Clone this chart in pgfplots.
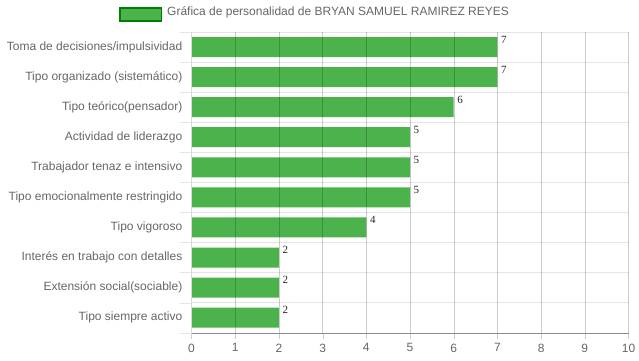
\documentclass[border=0pt]{standalone}
\usepackage{pgfplots}
\pgfplotsset{compat=1.18}
\usepackage{fontspec}
\setmainfont{Liberation Sans}
\newfontfamily\seriffont{Liberation Serif}
\definecolor{barfill}{RGB}{76,179,76}
\definecolor{legborder}{RGB}{0,128,0}
\definecolor{txt}{RGB}{102,102,102}
\begin{document}
\begin{tikzpicture}[x=1pt,y=1pt]
\useasboundingbox (0,0) rectangle (639,360);
\begin{axis}[
  at={(191.5pt,27.3pt)}, anchor=south west, scale only axis,
  width=437pt, height=300.7pt,
  xbar, bar width=20pt,
  xmin=0, xmax=10, ymin=-0.5, ymax=9.5,
  xtick={0,...,10}, ytick={0,...,9},
  yticklabels={Tipo siempre activo, Extensión social(sociable), Interés en trabajo con detalles, Tipo vigoroso, Tipo emocionalmente restringido, Trabajador tenaz e intensivo, Actividad de liderazgo, Tipo teórico(pensador), Tipo organizado (sistemático), Toma de decisiones/impulsividad},
  minor ytick={-0.5,0.5,...,9.5},
  xmajorgrids, yminorgrids,
  major x grid style={draw=black, opacity=0.2},
  minor y grid style={draw=black, opacity=0.1},
  axis on top,
  axis x line*=bottom, axis y line*=left,
  x axis line style={draw=black!45, -},
  y axis line style={draw=black!15, -},
  tick align=outside,
  major tick length=3pt, minor tick length=11pt,
  xtick style={draw=black!20, /pgfplots/major tick length=6pt},
  ytick style={draw=black!10, /pgfplots/major tick length=0pt},
  /pgf/number format/assume math mode=true,
  tick label style={font=\fontsize{12}{14}\selectfont, text=txt},
  xticklabel style={yshift=-4.5pt},
  yticklabel style={inner sep=0pt, xshift=-6pt},
  nodes near coords,
  nodes near coords style={font=\seriffont\fontsize{11}{11}\selectfont, text=black!85, anchor=north west, inner sep=1pt, xshift=2.5pt, yshift=12.2pt},
  legend style={at={(axis description cs:-0.1659,1.0629)}, anchor=west, draw=none, fill=none, inner sep=0pt,
    font=\fontsize{12}{14}\selectfont, text=txt,
    /tikz/every odd column/.append style={column sep=3pt}},
  legend image code/.code={\draw[fill=barfill, draw=legborder, line width=1.5pt] (0pt,-9pt) rectangle (41.5pt,4pt);},
]
\addplot[fill=barfill, draw=none] coordinates {
(2,0) (2,1) (2,2) (4,3) (5,4) (5,5) (5,6) (6,7) (7,8) (7,9)
};
\addlegendentry{Gráfica de personalidad de BRYAN SAMUEL RAMIREZ REYES}
\end{axis}
\end{tikzpicture}
\end{document}
